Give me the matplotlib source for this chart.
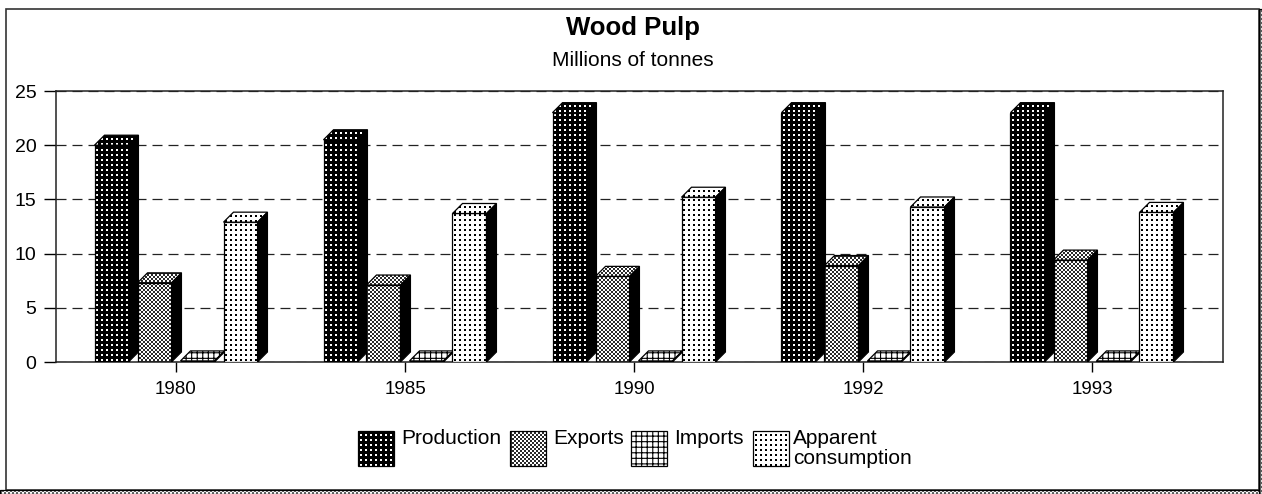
import matplotlib
matplotlib.use('Agg')
import matplotlib.pyplot as plt
import numpy as np
from matplotlib.patches import Rectangle, Polygon

plt.rcParams['font.family'] = ['Liberation Sans', 'DejaVu Sans']
plt.rcParams['hatch.linewidth'] = 0.8

years = ['1980', '1985', '1990', '1992', '1993']
production = [20.0, 20.5, 23.0, 23.0, 23.0]
exports = [7.3, 7.1, 7.9, 8.9, 9.4]
imports = [0.1, 0.1, 0.1, 0.1, 0.1]
apparent = [12.9, 13.7, 15.2, 14.3, 13.8]

names = ['Production', 'Exports', 'Imports', 'Apparent\nconsumption']
series = [production, exports, imports, apparent]

# face colour, dot colour, dot size, dot spacing in px, staggered rows, hatch
styles = [
    dict(face='black', dot='white', size=2.8, gap=5, stagger=False, hatch=None),
    dict(face='#2a2a2a', dot='white', size=2.4, gap=4, stagger=True, hatch=None),
    dict(face='white', dot=None, size=0, gap=0, stagger=False, hatch='+++'),
    dict(face='white', dot='black', size=2.2, gap=5, stagger=False, hatch=None),
]

W, H = 1262, 494
fig = plt.figure(figsize=(W / 100, H / 100), dpi=100)


def fill_face(ax, corners, st, z):
    # one face of a bar: flat colour, pattern clipped to it, thin outline
    face = Polygon(corners, closed=True, facecolor=st['face'], edgecolor='black' if st['hatch'] else 'none',
                   hatch=st['hatch'], lw=0, zorder=z)
    ax.add_patch(face)
    if st['dot']:
        px = ax.transData.transform(corners)
        gap = st['gap']
        # start on a whole pixel, otherwise the marker snapping gives moire stripes
        x_start = np.floor(px[:, 0].min()) + gap // 2 + 0.5
        y_start = np.floor(px[:, 1].min()) + gap // 2 + 0.5
        rows = np.arange(y_start, px[:, 1].max(), gap // 2 if st['stagger'] else gap)
        xs, ys = [], []
        for r, y in enumerate(rows):
            shift = gap // 2 if st['stagger'] and r % 2 else 0
            cols = np.arange(x_start + shift, px[:, 0].max(), gap)
            xs.extend(cols)
            ys.extend([y] * len(cols))
        pts = ax.transData.inverted().transform(np.column_stack([xs, ys]))
        dots = ax.scatter(pts[:, 0], pts[:, 1], s=st['size'], c=st['dot'], marker='s', linewidths=0, zorder=z)
        dots.set_clip_path(face)
    ax.add_patch(Polygon(corners, closed=True, fill=False, ec='black', lw=0.9, zorder=z))


# outer frame and the dotted strips along the bottom and right
bg = fig.add_axes([0, 0, 1, 1])
bg.set_xlim(0, W)
bg.set_ylim(H, 0)
bg.axis('off')
bg.add_patch(Rectangle((6, 9), 1253, 481, fc='white', ec='#333333', lw=1.2))
strip = dict(face='#666666', dot='white', size=3.6, gap=4, stagger=True, hatch=None)
fill_face(bg, [(0, 490), (W, 490), (W, H), (0, H)], strip, 1)
fill_face(bg, [(1259, 9), (W, 9), (W, H), (1259, H)], strip, 1)

left, right, top, bottom = 56, 1223, 91, 362
ax = fig.add_axes([left / W, 1 - bottom / H, (right - left) / W, (bottom - top) / H])
ax.patch.set_alpha(0)
ax.set_ylim(0, 25)
group_px = 229
center_px = 176
ax.set_xlim((left - center_px) / group_px, (right - center_px) / group_px)

bar_w = 34 / group_px
step = 43 / group_px
dx = 10 / group_px
dy = 10 / ((bottom - top) / 25)

ax.yaxis.grid(True, color='#222222', linestyle=(0, (8, 4.8)), linewidth=0.9)
ax.set_axisbelow(True)

for k, vals in enumerate(series):
    off = (k - 1.5) * step
    for i, v in enumerate(vals):
        x0 = i + off - bar_w / 2
        x1 = x0 + bar_w
        z = 3 + k
        fill_face(ax, [(x0, 0), (x1, 0), (x1, v), (x0, v)], styles[k], z)
        fill_face(ax, [(x0, v), (x1, v), (x1 + dx, v + dy), (x0 + dx, v + dy)], styles[k], z)
        ax.add_patch(Polygon([(x1, 0), (x1 + dx, dy), (x1 + dx, v + dy), (x1, v)],
                             fc='black', ec='black', lw=0.8, zorder=z))

ax.set_xticks(range(len(years)))
ax.set_xticklabels(years)
ax.set_yticks([0, 5, 10, 15, 20, 25])
ax.tick_params(axis='y', labelsize=14, length=9, width=1, pad=5)
ax.tick_params(axis='x', length=7, width=1, pad=7, labelsize=13.5)
for s in ax.spines.values():
    s.set_linewidth(1.1)
    s.set_color('#222222')

bg.text(633, 28, 'Wood Pulp', fontsize=18.5, fontweight='bold', ha='center', va='center')
bg.text(633, 60, 'Millions of tonnes', fontsize=15, ha='center', va='center')

# legend built by hand because of the tall swatches
swatch_x = [358, 510, 631, 753]
text_x = [401, 553, 674, 793]
for k, name in enumerate(names):
    x = swatch_x[k]
    fill_face(bg, [(x, 431), (x + 36, 431), (x + 36, 466), (x, 466)], styles[k], 2)
    bg.text(text_x[k], 429, name, fontsize=15, va='top', ha='left', linespacing=1.05)

fig.savefig('out.png', dpi=100)
